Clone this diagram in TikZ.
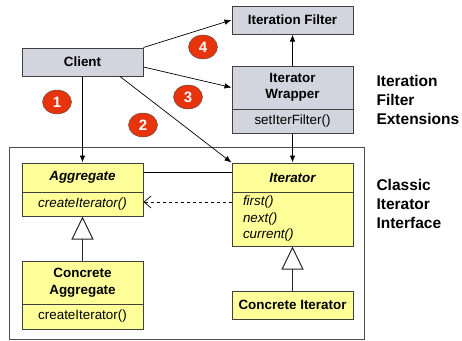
\documentclass[tikz,border=0pt]{standalone}
\usepackage{fontspec}
\setmainfont{Liberation Sans}
\usepackage{tikz}
\usetikzlibrary{shapes.geometric,arrows.meta,calc,positioning}
\definecolor{boxgray}{RGB}{210,212,222}
\definecolor{boxyellow}{RGB}{255,255,153}
\definecolor{stepred}{RGB}{232,52,12}

\begin{document}
\begin{tikzpicture}[x=1pt,y=-1pt]
	\tikzstyle{every node} = [font=\fontsize{13.4}{16.5}\selectfont]
	\tikzstyle{gbox} = [rectangle, draw = black!75, line width = 1pt, fill = boxgray, minimum width = 121pt, inner sep = 0pt]
	\tikzstyle{ybox} = [gbox, fill = boxyellow]
	\tikzstyle{num} = [ellipse, draw = black!70, fill = stepred, text = white, minimum width = 29pt, minimum height = 24pt, inner sep = 0pt, font=\fontsize{15}{15}\selectfont\bfseries]
	\tikzstyle{side} = [anchor = west, align = left, font=\fontsize{15.5}{19}\selectfont\bfseries]
	\tikzstyle{call} = [-{Latex[length=7pt,width=5.5pt]}, line width = 0.7pt]
	\tikzstyle{isa} = [-{Triangle[open,length=23pt,width=22pt]}, line width = 1pt, black!85]
\useasboundingbox (0,0) rectangle (462,340);

% frame round the classic pattern
\draw[black!70, line width = 0.8pt] (9,147) rectangle (364,339.5);

\node[gbox, minimum height = 28pt, font=\fontsize{13.4}{16.5}\selectfont\bfseries] (cl) at (82.5,62) {Client};
\node[gbox, minimum height = 28pt, font=\fontsize{13.4}{16.5}\selectfont\bfseries] (flt) at (292.5,20) {Iteration Filter};
\node[gbox, minimum height = 43pt, align = center, font=\fontsize{13.4}{16.5}\selectfont\bfseries] (wr) at (292.5,87.5) {Iterator\\Wrapper};
\node[gbox, minimum height = 24pt] (wrops) at (292.5,121) {setIterFilter()};

\node[ybox, minimum height = 29pt, font=\fontsize{13.4}{16.5}\selectfont\bfseries\itshape] (agg) at (82.5,177.5) {Aggregate};
\node[ybox, minimum height = 24pt, font=\fontsize{13.4}{16.5}\selectfont\itshape] (aggops) at (82.5,204) {createIterator()};
\node[ybox, minimum height = 43pt, align = center, font=\fontsize{13.4}{16.5}\selectfont\bfseries] (cagg) at (82.5,282.5) {Concrete\\Aggregate};
\node[ybox, minimum height = 25pt] (caggops) at (82.5,316.5) {createIterator()};

\node[ybox, minimum height = 29pt, font=\fontsize{13.4}{16.5}\selectfont\bfseries\itshape] (it) at (292.5,177.5) {Iterator};
\node[ybox, minimum height = 54pt, align = left, text width = 99pt, font=\fontsize{13.4}{16.5}\selectfont\itshape] (itops) at (292.5,219) {first()\\next()\\current()};
\node[ybox, minimum height = 28pt, font=\fontsize{13.4}{16.5}\selectfont\bfseries] (cit) at (292.5,305) {Concrete Iterator};

	\draw[call] (cl.south) -- (agg.north);
	\draw[call] ([xshift=37.5pt]cl.south) -- (it.north west);
	\draw[call] (cl.north east) -- (flt.west);
	\draw[call] ([yshift=-5pt]cl.east) -- (wr.west);
	\draw[call] (wr.north) -- (flt.south);
	\draw[call] (wrops.south) -- (it.north);
	\draw[line width = 0.7pt] ([yshift=5.5pt]agg.east) -- ([yshift=5.5pt]it.west);
	\draw[dashed, line width = 0.7pt, -{Straight Barb[length=7pt,width=12pt]}] ([yshift=17pt]itops.west) -- ([yshift=2pt]aggops.east);
	\draw[isa] (cagg.north) -- (aggops.south);
	\draw[isa] (cit.north) -- (itops.south);

\node[num] (n1) at (57,102) {1};
\node[num] (n2) at (143,125) {2};
\node[num] (n3) at (188,97) {3};
\node[num] (n4) at (203,47) {4};

\node[side] (ext) at (373,100) {Iteration\\Filter\\Extensions};
\node[side] (cls) at (373,204) {Classic\\Iterator\\Interface};
	\end{tikzpicture}
\end{document}
